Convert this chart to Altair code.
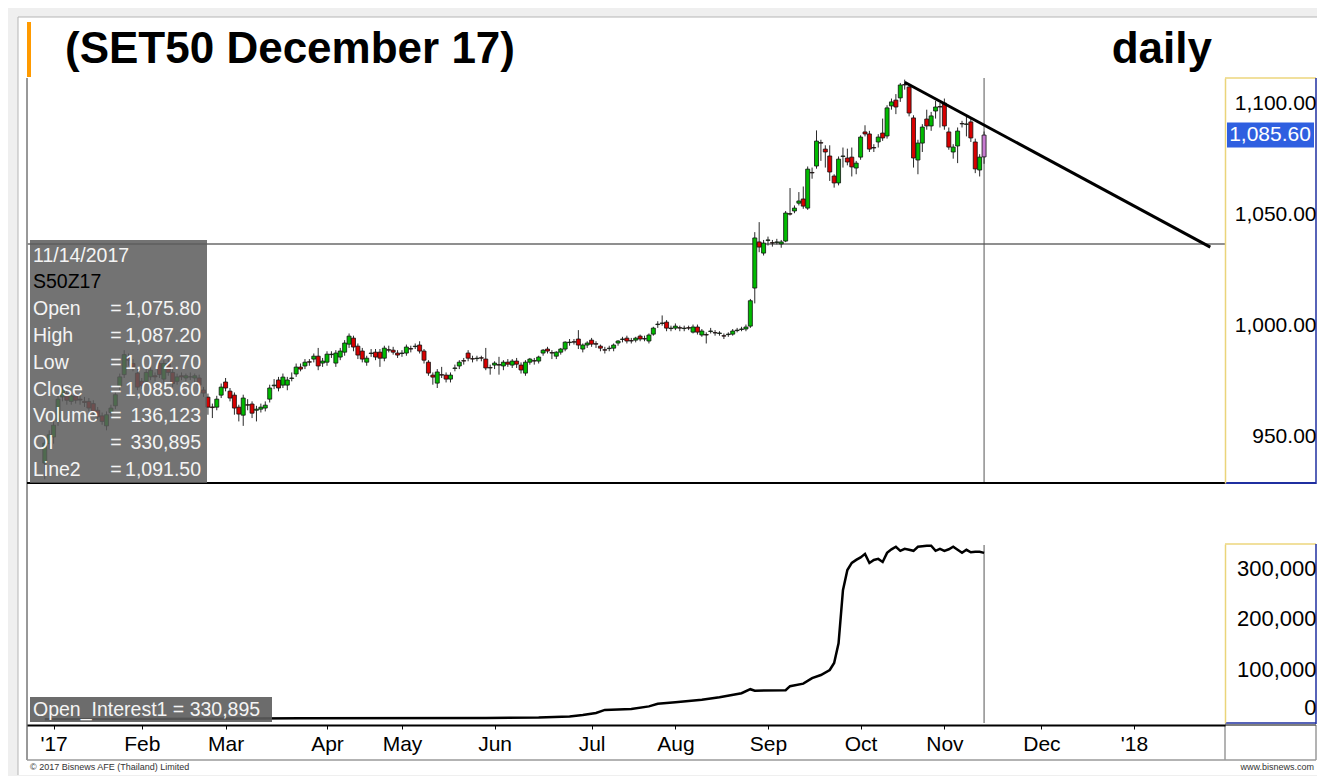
import json
import altair as alt
import pandas as pd

FONT = "Liberation Sans"

# ---------------- data: SET50 Dec-17 futures, daily candles (trading-day index) ----------------
opens = [
    938.3, 947.0, 950.0, 957.0, 968.0, 969.5, 966.0, 968.5, 967.0, 966.0,
    966.0, 965.0, 962.0, 959.5, 955.0, 961.0, 964.0, 973.0, 978.0, 985.5,
    983.0, 978.7, 975.0, 975.0, 977.0, 977.5, 983.0, 976.0, 983.0, 979.0,
    975.0, 977.5, 976.5, 977.0, 976.5, 976.5, 971.1, 967.9, 963.5, 963.4,
    968.8, 974.7, 970.6, 968.8, 963.4, 959.8, 964.5, 964.8, 962.0, 962.5,
    963.0, 967.0, 973.0, 975.6, 973.3, 973.3, 976.3, 978.3, 981.4, 981.9,
    983.8, 985.0, 986.3, 983.2, 983.6, 987.0, 983.2, 985.9, 988.1, 991.7,
    994.4, 990.8, 988.6, 983.6, 987.5, 988.1, 988.1, 985.4, 989.2, 989.0,
    987.7, 987.5, 987.7, 989.7, 990.6, 991.3, 988.6, 983.6, 977.8, 974.2,
    978.0, 977.8, 976.0, 980.8, 981.9, 984.3, 987.7, 985.2, 985.2, 985.6,
    985.0, 981.2, 982.3, 982.5, 981.9, 983.6, 982.3, 984.1, 982.3, 978.7,
    983.6, 984.3, 984.1, 987.7, 989.5, 987.9, 986.3, 988.1, 989.5, 992.4,
    992.8, 994.0, 989.5, 991.3, 993.5, 991.9, 990.8, 989.2, 989.7, 989.9,
    992.2, 993.8, 994.4, 993.3, 993.5, 995.3, 994.2, 993.1, 996.2, 1000.5,
    1001.0, 1001.6, 998.7, 998.9, 999.1, 998.7, 999.1, 997.1, 999.4, 995.8,
    996.0, 997.4, 996.9, 996.5, 995.5, 996.0, 996.2, 997.8, 998.3, 998.5,
    999.8, 1016.9, 1037.6, 1032.6, 1038.3, 1037.3, 1037.4, 1036.7, 1038.0, 1050.3,
    1051.5, 1055.0, 1056.9, 1052.8, 1068.8, 1071.7, 1082.2, 1079.3, 1076.2, 1067.2,
    1064.1, 1076.0, 1075.3, 1075.7, 1070.8, 1075.7, 1087.0, 1086.1, 1080.0, 1082.5,
    1086.5, 1085.2, 1098.7, 1101.3, 1102.3, 1108.3, 1107.2, 1093.3, 1074.4, 1082.0,
    1092.8, 1089.7, 1096.4, 1098.4, 1100.0, 1087.0, 1078.0, 1080.7, 1090.8, 1090.4,
    1091.5, 1082.5, 1069.9, 1075.8,
]
highs = [
    949.0, 953.0, 957.5, 969.5, 973.5, 971.0, 970.0, 970.5, 969.0, 968.0,
    967.5, 966.5, 963.5, 961.0, 961.5, 964.5, 970.5, 978.5, 989.0, 987.5,
    985.0, 980.5, 976.5, 980.5, 981.5, 979.0, 985.0, 984.5, 985.5, 980.5,
    978.5, 979.0, 978.5, 979.0, 978.5, 978.0, 972.5, 969.5, 965.0, 968.5,
    974.0, 976.5, 972.0, 970.0, 964.5, 969.0, 967.0, 966.0, 964.0, 965.0,
    966.0, 973.5, 976.0, 977.0, 978.5, 977.0, 979.0, 983.0, 983.0, 985.0,
    985.0, 987.5, 990.0, 985.5, 988.5, 988.5, 989.0, 990.0, 993.5, 996.5,
    995.5, 992.0, 990.0, 986.5, 989.5, 989.5, 989.5, 991.0, 991.0, 990.5,
    989.0, 989.0, 991.5, 991.0, 992.0, 993.0, 989.5, 984.5, 979.0, 980.5,
    981.5, 979.0, 979.0, 982.5, 984.5, 985.5, 989.0, 986.5, 986.5, 986.5,
    990.0, 982.5, 984.0, 986.0, 984.5, 985.0, 985.0, 985.5, 983.5, 984.5,
    985.5, 985.5, 986.5, 989.5, 990.5, 989.0, 988.5, 990.0, 993.0, 994.0,
    994.0, 998.0, 992.0, 993.0, 994.5, 993.0, 991.5, 990.5, 991.0, 992.0,
    993.5, 995.0, 995.5, 994.5, 995.0, 996.0, 995.5, 996.5, 999.5, 1002.0,
    1004.6, 1002.5, 1000.0, 1001.0, 1000.0, 1000.0, 1000.0, 1000.5, 1000.5, 998.5,
    997.0, 999.0, 998.0, 997.5, 996.5, 997.0, 998.5, 999.0, 999.5, 1000.5,
    1012.0, 1042.0, 1046.5, 1038.5, 1040.0, 1038.5, 1039.0, 1038.5, 1051.5, 1061.8,
    1054.0, 1060.0, 1062.5, 1071.5, 1071.0, 1087.7, 1083.5, 1081.0, 1081.0, 1068.0,
    1076.0, 1080.0, 1079.5, 1080.0, 1074.0, 1085.5, 1090.0, 1087.5, 1081.5, 1086.0,
    1093.0, 1099.0, 1102.0, 1104.0, 1109.0, 1110.5, 1108.5, 1094.5, 1083.5, 1090.5,
    1097.0, 1096.0, 1101.0, 1100.0, 1102.0, 1089.0, 1081.5, 1089.0, 1092.0, 1094.0,
    1093.0, 1084.0, 1077.0, 1087.2,
]
lows = [
    931.0, 944.5, 947.0, 955.0, 966.0, 964.5, 964.5, 965.0, 964.5, 963.5,
    961.5, 959.5, 957.5, 955.5, 953.0, 959.5, 962.5, 971.0, 976.5, 982.0,
    979.5, 971.0, 971.5, 973.5, 975.5, 975.0, 976.5, 974.0, 977.5, 972.5,
    973.5, 975.5, 975.0, 975.5, 974.5, 971.5, 968.0, 960.0, 958.5, 962.0,
    967.5, 970.5, 966.0, 960.0, 957.0, 955.0, 962.0, 958.5, 957.0, 961.0,
    961.5, 965.5, 971.5, 970.5, 972.0, 971.0, 975.0, 977.0, 979.5, 980.5,
    982.0, 983.5, 980.0, 981.5, 982.0, 985.5, 981.5, 984.5, 986.5, 990.0,
    988.5, 985.0, 983.5, 982.0, 986.0, 984.5, 981.5, 984.0, 988.0, 987.0,
    985.5, 986.0, 986.5, 988.0, 989.5, 987.5, 983.0, 977.5, 973.5, 972.0,
    976.5, 974.5, 974.5, 979.5, 980.5, 982.5, 984.0, 983.5, 984.0, 984.0,
    980.0, 978.0, 980.5, 978.0, 980.0, 981.5, 981.0, 981.0, 978.5, 977.5,
    982.5, 982.5, 983.0, 986.5, 987.5, 985.0, 985.0, 987.0, 988.5, 991.0,
    991.5, 989.5, 988.0, 990.0, 990.5, 990.0, 988.5, 987.5, 988.5, 988.5,
    991.0, 992.5, 992.0, 992.0, 992.5, 993.0, 993.0, 992.0, 995.5, 999.0,
    1000.0, 997.5, 997.5, 998.0, 997.5, 997.5, 998.0, 996.5, 996.0, 995.0,
    992.0, 996.5, 995.5, 995.5, 994.0, 995.0, 995.5, 997.0, 997.5, 997.5,
    999.0, 1010.0, 1033.0, 1031.5, 1036.0, 1035.5, 1036.5, 1035.0, 1037.5, 1049.5,
    1050.5, 1054.0, 1052.5, 1052.0, 1066.0, 1070.5, 1074.0, 1071.0, 1065.0, 1062.0,
    1063.0, 1071.0, 1072.0, 1067.0, 1068.0, 1074.5, 1085.0, 1078.0, 1078.0, 1080.0,
    1083.0, 1084.0, 1097.0, 1095.0, 1100.5, 1106.0, 1094.0, 1071.0, 1068.0, 1078.0,
    1088.0, 1087.5, 1093.0, 1089.0, 1088.0, 1079.0, 1075.0, 1073.0, 1089.0, 1085.0,
    1082.5, 1068.5, 1067.0, 1072.7,
]
closes = [
    947.3, 951.0, 955.3, 967.0, 971.5, 966.5, 968.5, 966.5, 966.6, 965.5,
    963.0, 961.0, 959.0, 957.0, 960.0, 963.0, 969.0, 977.0, 987.0, 984.5,
    981.4, 972.4, 973.0, 979.0, 980.0, 977.0, 978.0, 983.0, 979.0, 974.0,
    977.0, 977.0, 977.5, 977.0, 977.5, 973.3, 969.7, 963.4, 963.2, 967.0,
    972.4, 972.0, 967.5, 963.0, 960.3, 967.5, 964.3, 960.7, 962.5, 963.4,
    964.3, 972.0, 973.3, 972.0, 976.9, 975.6, 976.5, 981.4, 980.5, 983.6,
    983.6, 986.3, 981.9, 984.1, 987.2, 987.2, 987.7, 988.6, 992.2, 995.3,
    990.4, 986.8, 985.0, 985.4, 987.7, 985.9, 985.4, 989.9, 989.0, 988.1,
    986.8, 987.7, 990.4, 989.5, 990.8, 988.6, 984.5, 978.7, 976.9, 979.2,
    977.8, 976.0, 977.8, 981.0, 983.6, 984.1, 985.4, 985.0, 985.4, 985.4,
    981.0, 981.0, 983.2, 982.3, 983.6, 982.7, 984.1, 982.7, 980.1, 983.6,
    985.0, 984.1, 985.9, 989.0, 988.6, 987.7, 988.1, 989.5, 992.6, 992.6,
    992.6, 991.3, 991.3, 992.2, 991.7, 991.7, 989.9, 989.0, 989.9, 991.3,
    993.1, 994.0, 993.1, 993.1, 994.4, 994.0, 994.0, 995.8, 998.9, 1000.7,
    1001.2, 998.9, 998.9, 999.8, 998.9, 998.9, 998.9, 999.4, 997.1, 997.6,
    995.8, 997.6, 996.7, 996.7, 995.3, 996.2, 997.6, 998.0, 998.5, 999.4,
    1011.2, 1039.4, 1035.3, 1037.1, 1038.5, 1037.1, 1037.6, 1037.6, 1050.6, 1050.1,
    1052.8, 1056.0, 1053.7, 1070.3, 1068.6, 1082.9, 1082.0, 1078.0, 1069.0, 1064.1,
    1074.8, 1076.2, 1073.5, 1071.3, 1073.0, 1084.7, 1086.1, 1079.3, 1079.8, 1084.7,
    1084.3, 1097.8, 1100.5, 1098.2, 1108.1, 1108.1, 1095.5, 1075.3, 1082.0, 1089.2,
    1089.7, 1094.2, 1098.2, 1098.2, 1089.7, 1080.2, 1080.2, 1087.4, 1090.6, 1090.6,
    1084.3, 1070.4, 1075.7, 1085.6,
]

# open interest, read at trading-day indices
oi_idx = [0, 20, 40, 58, 100, 112, 119, 122, 125, 127, 133, 137, 139, 143, 149, 153,
          158, 160, 161, 168, 169, 172, 174, 176, 178, 179, 180, 181, 182, 183, 184,
          185, 186, 187, 188, 189, 190, 191, 192, 193, 194, 195, 196, 197, 198, 199,
          200, 201, 202, 203, 204, 205, 206, 207, 208, 209, 210, 211, 212, 213]
oi_val = [1500, 2000, 2500, 3500, 4000, 5000, 7000, 10000, 14000, 20000, 22000, 27000,
          32000, 35000, 40000, 45000, 53000, 61000, 58000, 59000, 67000, 72000, 83000,
          89000, 99000, 113000, 152000, 257000, 297000, 311000, 317000, 322000, 329000,
          311000, 317000, 319000, 313000, 331000, 338000, 343000, 335000, 339000, 337000,
          335000, 343000, 344000, 345000, 345000, 335000, 339000, 335000, 338000, 343000,
          337000, 331000, 337000, 332000, 333000, 333000, 330895]

# x-axis month ticks (trading-day index) and labels
month_ticks = [2, 22, 41, 64, 81, 102, 124, 143, 164, 185, 204, 226, 247]
month_labels = ["'17", "Feb", "Mar", "Apr", "May", "Jun", "Jul", "Aug", "Sep", "Oct",
                "Nov", "Dec", "'18"]

price_ticks = [950, 1000, 1050, 1100]
oi_ticks = [0, 100000, 200000, 300000]

trend_idx = [195, 264.3]
trend_val = [1109.3, 1035.3]
cursor_idx = [213]
crosshair_price = [1036.7]
last_price = [1085.6]

info_title = "11/14/2017"
info_symbol = "S50Z17"
info_names = ["Open", "High", "Low", "Close", "Volume", "OI", "Line2"]
info_values = ["1,075.80", "1,087.20", "1,072.70", "1,085.60", "136,123", "330,895", "1,091.50"]
oi_caption = "Open_Interest1 = 330,895"

# ---------------- frames ----------------
n = len(closes)
candles = pd.DataFrame({"i": list(range(n)), "open": opens, "high": highs,
                        "low": lows, "close": closes})
kinds = ["up" if c >= o else "down" for o, c in zip(opens, closes)]
kinds[-1] = "last"
candles["kind"] = kinds

oi_df = pd.DataFrame({"i": oi_idx, "oi": oi_val})
trend_df = pd.DataFrame({"i": trend_idx, "p": trend_val})
cursor_df = pd.DataFrame({"i": cursor_idx})
cross_df = pd.DataFrame({"p": crosshair_price})
last_df = pd.DataFrame({"p": last_price})
one = pd.DataFrame({"a": [0]})

W, H = 1217, 717
RIGHT = 1308  # right frame edge inside the drawing

label_expr = " : ".join(
    f"datum.value == {v} ? {json.dumps(l)}" for v, l in zip(month_ticks, month_labels)
) + " : ''"

x_scale = alt.Scale(domain=[-2.9, 266.5], range=[19, 1217], nice=False, zero=False)
x_axis = alt.Axis(values=month_ticks, labelExpr=label_expr, title=None, grid=False,
                  orient="bottom", domainColor="black", domainWidth=2, tickColor="black",
                  tickSize=4, labelFontSize=21, labelFont=FONT, labelColor="black",
                  labelPadding=4, labelFlush=False, labelOverlap=False, zindex=2)


def X(field):
    return alt.X(f"{field}:Q", scale=x_scale, axis=x_axis, title=None)


price_scale = alt.Scale(domain=[929.34, 1111.23], range=[475, 70], nice=False, zero=False)
price_axis = alt.Axis(values=price_ticks, format=",.2f", orient="right", title=None,
                      grid=False, ticks=True, tickSize=0, labelAlign="right",
                      labelPadding=91, labelFontSize=21, labelFont=FONT,
                      labelColor="black", domainColor="#ead47a", domainWidth=1.5,
                      labelFlush=False, labelOverlap=False, zindex=2)


def YP(field):
    return alt.Y(f"{field}:Q", scale=price_scale, axis=price_axis, title=None)


oi_scale = alt.Scale(domain=[-5941, 348500], range=[715, 536], nice=False, zero=False)
oi_axis = alt.Axis(values=oi_ticks, format=",.0f", orient="right", title=None, grid=False,
                   ticks=True, tickSize=0, labelAlign="right", labelPadding=91,
                   labelFontSize=22, labelFont=FONT, labelColor="black",
                   domainColor="#ead47a", domainWidth=1.5, labelFlush=5,
                   labelOverlap=False, zindex=2)


def hrule(y, x1, x2, color, w=1):
    return alt.Chart(one).mark_rule(color=color, strokeWidth=w).encode(
        x=alt.value(x1), x2=alt.value(x2), y=alt.value(y))


def vrule(x, y1, y2, color, w=1):
    return alt.Chart(one).mark_rule(color=color, strokeWidth=w).encode(
        x=alt.value(x), y=alt.value(y1), y2=alt.value(y2))


def box(x1, x2, y1, y2, fill, opacity=1.0):
    return alt.Chart(one).mark_rect(color=fill, opacity=opacity).encode(
        x=alt.value(x1), x2=alt.value(x2), y=alt.value(y1), y2=alt.value(y2))


def label(txt, x, y, size, color="black", align="left", weight="normal", baseline="middle",
          line_height=None):
    kw = dict(font=FONT, fontSize=size, color=color, align=align, fontWeight=weight,
              baseline=baseline, text=txt)
    if line_height is not None:
        kw["lineHeight"] = line_height
    return alt.Chart(one).mark_text(**kw).encode(x=alt.value(x), y=alt.value(y))


# ---------------- background / frame ----------------
back = alt.layer(
    box(10, 1309, 9, 767, "white"),
    hrule(9, 10, 1309, "#b5b5b5"),
    vrule(10, 9, 767, "#b5b5b5"),
    box(19, 23, 14, 69, "#ff9a00"),
    vrule(19, 70, 752, "#333333", 1),
    hrule(752, 19, RIGHT, "#9a9a9a", 1.5),
    vrule(1217, 717, 752, "#9a9a9a", 1.5),
    vrule(RIGHT, 717, 752, "#9a9a9a", 1.5),
    hrule(717, 1217, RIGHT, "#555555", 1.5),
    hrule(70, 1217, RIGHT, "#ecd67c", 1.5),
    hrule(536, 1217, RIGHT, "#ecd67c", 1.5),
    vrule(RIGHT, 70, 476, "#1f2fa0", 1.5),
    vrule(RIGHT, 536, 716, "#1f2fa0", 1.5),
    hrule(715, 1217, RIGHT, "#1f2fa0", 1.5),
)

# ---------------- price panel ----------------
cross = alt.Chart(cross_df).mark_rule(color="#8f8f8f", strokeWidth=2).encode(
    y=YP("p"), x=alt.value(19), x2=alt.value(1217))
cursor_p = alt.Chart(cursor_df).mark_rule(color="#555555", strokeWidth=1).encode(
    x=X("i"), y=alt.value(70), y2=alt.value(475))
wicks = alt.Chart(candles).mark_rule(color="#2a2a2a", strokeWidth=1).encode(
    x=X("i"), y=YP("low"), y2=alt.Y2("high"))
bodies = alt.Chart(candles).mark_bar(size=4, stroke="#111111", strokeWidth=0.8).encode(
    x=X("i"), y=YP("open"), y2=alt.Y2("close"),
    color=alt.Color("kind:N", legend=None,
                    scale=alt.Scale(domain=["up", "down", "last"],
                                    range=["#00bb00", "#d80000", "#c77ad0"])))
trend = alt.Chart(trend_df).mark_line(color="black", strokeWidth=3).encode(
    x=X("i"), y=YP("p"))
sep = hrule(475, 19, 1217, "black", 2)
sep2 = hrule(475, 1217, RIGHT, "#1f2fa0", 2)
price_tag_box = alt.Chart(last_df).transform_calculate(
    top="datum.p + 5.6", bot="datum.p - 5.6").mark_rect(color="#2f5fe0").encode(
    y=YP("top"), y2=alt.Y2("bot"), x=alt.value(1219), x2=alt.value(1306))
price_tag_txt = alt.Chart(last_df).mark_text(
    font=FONT, fontSize=21, color="white", align="center", baseline="middle").encode(
    y=YP("p"), x=alt.value(1262), text=alt.Text("p:Q", format=",.2f"))

price = alt.layer(cross, cursor_p, wicks, bodies, trend, sep, sep2,
                  price_tag_box, price_tag_txt)

# ---------------- open interest panel ----------------
cursor_o = alt.Chart(cursor_df).mark_rule(color="#555555", strokeWidth=1).encode(
    x=X("i"), y=alt.value(537), y2=alt.value(715))
oi_line = alt.Chart(oi_df).mark_line(color="black", strokeWidth=2.5).encode(
    x=X("i"), y=alt.Y("oi:Q", scale=oi_scale, axis=oi_axis, title=None))
oi = alt.layer(cursor_o, oi_line)

# ---------------- overlays ----------------
front = alt.layer(
    box(22, 199, 232, 475, "#5c5c5c", 0.86),
    label(info_title, 25, 248, 19.5, "#f4f4f4"),
    label(info_symbol, 25, 274, 19.5, "black"),
    label(info_names, 25, 301.2, 19.5, "#f4f4f4", line_height=26.8),
    label(["="] * len(info_names), 108, 301.2, 19.5, "#f4f4f4", align="center",
          line_height=26.8),
    label(info_values, 193, 301.2, 19.5, "#f4f4f4", align="right", line_height=26.8),
    box(22, 264, 689, 714, "#5c5c5c", 0.9),
    label(oi_caption, 25, 702, 19.5, "#f4f4f4"),
    label("(SET50 December 17)", 57, 42, 44, "black", weight="bold"),
    label("daily", 1204, 42, 44, "black", align="right", weight="bold"),
    label("\u00a9 2017 Bisnews AFE (Thailand) Limited", 22, 759, 9, "#333333"),
    label("www.bisnews.com", 1306, 759, 9, "#333333", align="right"),
)

chart = alt.layer(back, price, oi, front).resolve_scale(y="independent").properties(
    width=W, height=H,
    autosize=alt.AutoSizeParams(type="none"),
    padding={"left": 0, "top": 0, "right": 92, "bottom": 51},
).configure(background="#efefef", font=FONT).configure_view(stroke=None)

chart.save("out.html", embed_options={"renderer": "svg", "actions": False})
